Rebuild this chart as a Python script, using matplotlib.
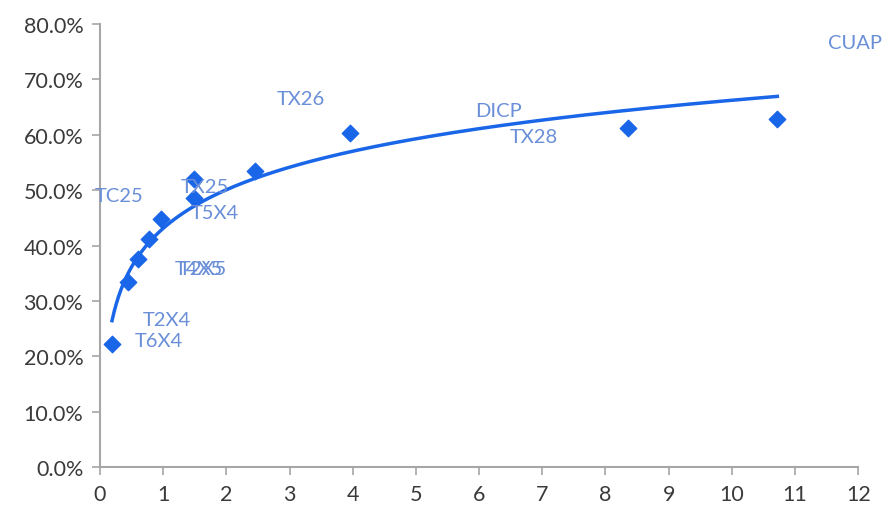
import matplotlib.pyplot as plt
import numpy as np
from matplotlib.ticker import PercentFormatter

# Valores
x_vals = [0.19, 0.44, 0.60, 0.78, 0.97, 1.49, 1.49, 2.45, 3.96, 8.35, 10.72]
y_vals = [22.2, 33.4, 37.5, 41.2, 44.8, 52.0, 48.6, 53.4, 60.3, 61.2, 62.8]

# Etiquetas (tal como aparecen, desplazadas respecto a los puntos)
labels = ['CUAP', 'TX26', 'DICP', 'TX28', 'TX25', 'TC25', 'T5X4', 'T4X5', 'T2X5', 'T2X4', 'T6X4']
label_x = [11.52, 2.80, 5.93, 6.49, 1.27, -0.09, 1.44, 1.19, 1.25, 0.68, 0.55]
label_y = [76.7, 66.6, 64.4, 59.7, 50.7, 49.1, 46.0, 35.9, 35.9, 26.7, 22.9]

marker_color = '#1a66e8'
label_color = '#6a8fd8'
axis_color = '#a6a6a6'

plt.rcParams['font.family'] = ['Lato', 'DejaVu Sans']

fig = plt.figure(figsize=(8.93, 5.10), dpi=100)
ax = fig.add_axes([0.112, 0.082, 0.849, 0.869])

ax.scatter(x_vals, y_vals, marker='D', s=70, color=marker_color, zorder=3)

# Línea de tendencia logarítmica ajustada a los datos
b, a = np.polyfit(np.log(x_vals), y_vals, 1)
xs = np.linspace(min(x_vals), max(x_vals), 300)
ax.plot(xs, a + b * np.log(xs), color=marker_color, linewidth=2.5, zorder=2)

for name, lx, ly in zip(labels, label_x, label_y):
    ax.text(lx, ly, name, color=label_color, fontsize=14.5, va='center', ha='left',
            clip_on=False)

ax.set_xlim(0, 12)
ax.set_ylim(0, 80)
ax.set_xticks(range(0, 13))
ax.set_yticks(range(0, 81, 10))
ax.yaxis.set_major_formatter(PercentFormatter(decimals=1))

for side in ['top', 'right']:
    ax.spines[side].set_visible(False)
for side in ['left', 'bottom']:
    ax.spines[side].set_color(axis_color)
    ax.spines[side].set_linewidth(1.5)
ax.tick_params(colors=axis_color, labelcolor='#3a3a3a', labelsize=15.5,
               direction='out', length=6, width=1.2, pad=6)

fig.savefig('out.png', dpi=100)
